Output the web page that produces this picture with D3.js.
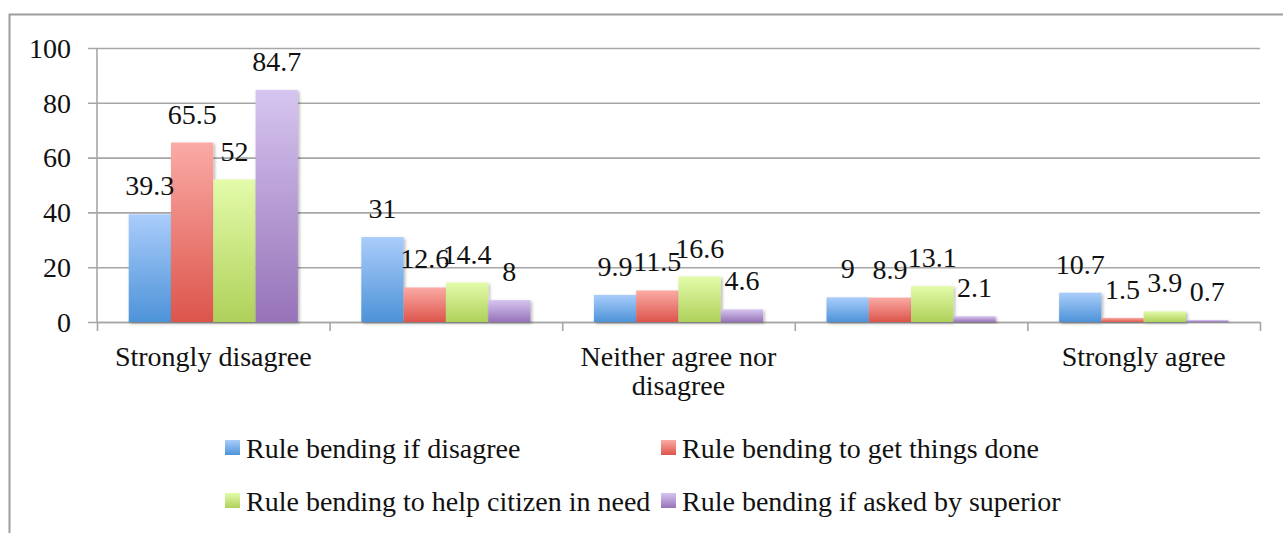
<!DOCTYPE html>
<html>
<head>
<meta charset="utf-8">
<script src="https://cdn.jsdelivr.net/npm/d3@7"></script>
<style>
  html, body { margin: 0; padding: 0; background: #fff; }
  svg { display: block; }
  text { font-family: "Liberation Serif", "Times New Roman", serif; fill: #111; }
</style>
</head>
<body>
<svg id="chart" width="1283" height="533"></svg>
<script>
// ---- data ----
const categories = ["Strongly disagree", "", "Neither agree nor disagree", "", "Strongly agree"];
const seriesNames = [
  "Rule bending if disagree",
  "Rule bending to get things done",
  "Rule bending to help citizen in need",
  "Rule bending if asked by superior"
];
const ifDisagree = [39.3, 31, 9.9, 9, 10.7];
const getThingsDone = [65.5, 12.6, 11.5, 8.9, 1.5];
const helpCitizen = [52, 14.4, 16.6, 13.1, 3.9];
const askedBySuperior = [84.7, 8, 4.6, 2.1, 0.7];
const yTicks = [0, 20, 40, 60, 80, 100];

const seriesValues = [ifDisagree, getThingsDone, helpCitizen, askedBySuperior];
const gradTop = ["#aacdfb", "#fbaaa5", "#e3fbaa", "#d6c5f0"];
const gradBottom = ["#4d93d8", "#dc554b", "#afd15a", "#9773b8"];

const svg = d3.select("#chart");
const fontSize = 28;

// outer frame
svg.append("rect")
  .attr("x", 9.5).attr("y", 14.5)
  .attr("width", 1300).attr("height", 600)
  .attr("fill", "#fff").attr("stroke", "#9e9e9e").attr("stroke-width", 2);

const defs = svg.append("defs");
seriesNames.forEach((n, i) => {
  const g = defs.append("linearGradient").attr("id", "grad" + i)
    .attr("x1", 0).attr("y1", 0).attr("x2", 0).attr("y2", 1);
  g.append("stop").attr("offset", "0%").attr("stop-color", gradTop[i]);
  g.append("stop").attr("offset", "100%").attr("stop-color", gradBottom[i]);
});
const f = defs.append("filter").attr("id", "shadow")
  .attr("x", "-20%").attr("y", "-20%").attr("width", "150%").attr("height", "150%");
f.append("feDropShadow").attr("dx", 1.5).attr("dy", 1.5).attr("stdDeviation", 1.5)
  .attr("flood-color", "#000").attr("flood-opacity", 0.3);

// scales
const plotLeft = 97, plotRight = 1260, plotTop = 48, plotBottom = 322;
const y = d3.scaleLinear().domain([0, 100]).range([plotBottom, plotTop]);
const x = d3.scaleBand().domain(d3.range(categories.length)).range([plotLeft, plotRight]).padding(0);
const bw = x.bandwidth();
const gap = bw * 1.5 / 5.5;
const xs = d3.scaleBand().domain(d3.range(seriesNames.length)).range([gap / 2, bw - gap / 2]).padding(0);
const xb = d3.scaleLinear().domain([0, categories.length]).range([plotLeft, plotRight]);

// gridlines + y labels
const gy = svg.append("g").attr("transform", `translate(88,0)`)
  .call(d3.axisLeft(y).tickValues(yTicks).tickSize(-(plotRight - 88)).tickPadding(17).tickFormat(d3.format("d")));
gy.select(".domain").remove();
gy.selectAll(".tick line").attr("stroke", "#a6a6a6").attr("stroke-width", 1.6);
gy.selectAll(".tick text").style("font-size", fontSize + "px").attr("fill", "#111")
  .attr("dy", "0.33em").style("font-family", "'Liberation Serif', serif");

// y axis line
svg.append("line").attr("x1", plotLeft).attr("x2", plotLeft)
  .attr("y1", plotTop).attr("y2", plotBottom)
  .attr("stroke", "#a6a6a6").attr("stroke-width", 1.6);

// x axis with boundary ticks
const gx = svg.append("g").attr("transform", `translate(0,${plotBottom})`)
  .call(d3.axisBottom(xb).tickValues(d3.range(categories.length + 1)).tickSize(9).tickSizeOuter(0).tickFormat(""));
gx.select(".domain").attr("stroke", "#a6a6a6").attr("stroke-width", 1.6);
gx.selectAll(".tick line").attr("stroke", "#a6a6a6").attr("stroke-width", 1.6);

// bars
const groups = svg.append("g").selectAll("g").data(categories).join("g")
  .attr("transform", (d, i) => `translate(${x(i)},0)`);
seriesValues.forEach((vals, s) => {
  groups.append("rect")
    .attr("x", (d, i) => xs(s))
    .attr("y", (d, i) => y(vals[i]))
    .attr("width", xs.bandwidth())
    .attr("height", (d, i) => y(0) - y(vals[i]))
    .attr("fill", `url(#grad${s})`)
    .attr("filter", "url(#shadow)");
});
// value labels
seriesValues.forEach((vals, s) => {
  groups.append("text")
    .attr("x", (d, i) => xs(s) + xs.bandwidth() / 2)
    .attr("y", (d, i) => y(vals[i]) - 19)
    .attr("text-anchor", "middle")
    .style("font-size", fontSize + "px")
    .text((d, i) => vals[i]);
});

// category labels (wrapped)
categories.forEach((c, i) => {
  if (!c) return;
  const t = svg.append("text").attr("text-anchor", "middle")
    .style("font-size", fontSize + "px")
    .attr("x", x(i) + bw / 2).attr("y", 366);
  const words = c.split(" ");
  let line = [];
  let ts = t.append("tspan").attr("x", x(i) + bw / 2).attr("dy", 0);
  words.forEach(w => {
    line.push(w);
    ts.text(line.join(" "));
    if (ts.node().getComputedTextLength() > bw - 20 && line.length > 1) {
      line.pop();
      ts.text(line.join(" "));
      line = [w];
      ts = t.append("tspan").attr("x", x(i) + bw / 2).attr("dy", 29).text(w);
    }
  });
});

// legend
const legendX = [225, 661];
const legendY = [440, 493];
seriesNames.forEach((n, i) => {
  const col = i % 2, row = Math.floor(i / 2);
  const g = svg.append("g").attr("transform", `translate(${legendX[col]},${legendY[row]})`);
  g.append("rect").attr("width", 15).attr("height", 15).attr("fill", `url(#grad${i})`);
  g.append("text").attr("x", 21).attr("y", 18).style("font-size", fontSize + "px").text(n);
});
</script>
</body>
</html>
